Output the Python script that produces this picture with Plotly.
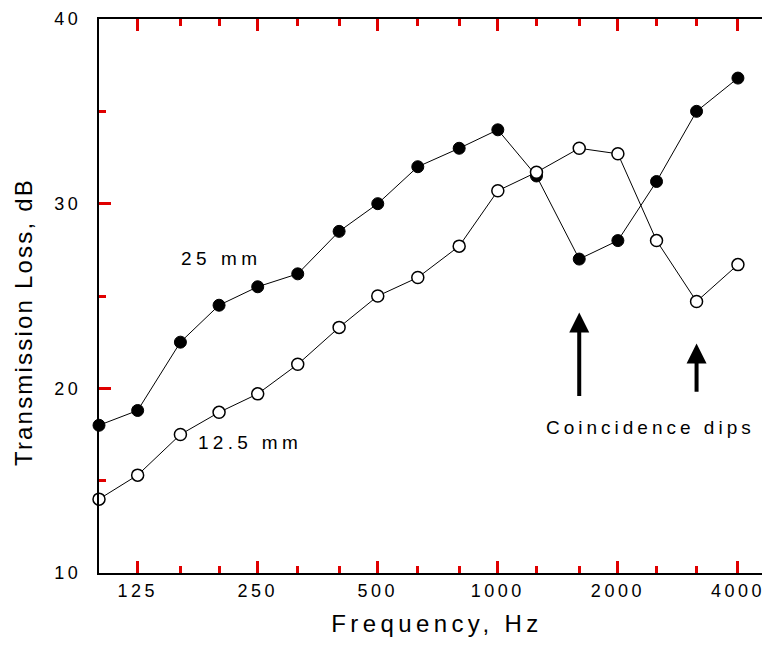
import math
import plotly.graph_objects as go

freqs = [100, 125, 160, 200, 250, 315, 400, 500, 630, 800, 1000, 1250, 1600, 2000, 2500, 3150, 4000]
tl_25mm = [18.0, 18.8, 22.5, 24.5, 25.5, 26.2, 28.5, 30.0, 32.0, 33.0, 34.0, 31.5, 27.0, 28.0, 31.2, 35.0, 36.8]
tl_12mm = [14.0, 15.3, 17.5, 18.7, 19.7, 21.3, 23.3, 25.0, 26.0, 27.7, 30.7, 31.7, 33.0, 32.7, 28.0, 24.7, 26.7]
x_ticks = [125, 250, 500, 1000, 2000, 4000]
x_minor = [160, 200, 315, 400, 630, 800, 1250, 1600, 2500, 3150]
y_ticks = [10, 20, 30, 40]
y_minor = [15, 25, 35]

FONT = "Liberation Sans, Arial, sans-serif"


def spaced(text, px):
    return '<span style="letter-spacing:%spx">%s</span>' % (px, text)


X_RANGE = [2, 3.695]
Y_RANGE = [10, 40]

fig = go.Figure()
fig.add_trace(go.Scatter(
    x=freqs, y=tl_25mm, mode="lines+markers", name="25 mm",
    line=dict(color="black", width=1),
    marker=dict(symbol="circle", size=12, color="black", line=dict(color="black", width=1)),
    cliponaxis=False,
))
fig.add_trace(go.Scatter(
    x=freqs, y=tl_12mm, mode="lines+markers", name="12.5 mm",
    line=dict(color="black", width=1),
    marker=dict(symbol="circle", size=12, color="white", line=dict(color="black", width=1.5)),
    cliponaxis=False,
))

tick_style = dict(ticks="inside", tickwidth=3, tickcolor="#e00000", showgrid=False, zeroline=False)

layout = dict(
    width=770, height=645,
    margin=dict(l=91, r=1, t=10, b=80),
    paper_bgcolor="white", plot_bgcolor="white",
    showlegend=False,
    font=dict(family=FONT, color="black"),
    xaxis=dict(
        type="log", range=X_RANGE,
        tickmode="array", tickvals=x_ticks, ticktext=[spaced(str(v), 3.5) for v in x_ticks],
        ticklen=12, showline=True, linewidth=2, linecolor="black", mirror=True,
        tickfont=dict(size=18, family=FONT),
        title=dict(text=spaced("Frequency, Hz", 4.4), font=dict(size=24, family=FONT), standoff=16),
        **tick_style,
    ),
    yaxis=dict(
        range=Y_RANGE,
        tickmode="array", tickvals=y_ticks, ticktext=[spaced(str(v), 3.5) for v in y_ticks],
        ticks="", ticklabelstandoff=12,
        showline=True, linewidth=2, linecolor="black", mirror=True,
        showgrid=False, zeroline=False,
        tickfont=dict(size=18, family=FONT),
    ),
)

extra_x = [("xaxis2", "bottom", x_minor, 7), ("xaxis3", "top", x_ticks, 12), ("xaxis4", "top", x_minor, 7)]
extra_y = [("yaxis2", "left", y_minor, 7), ("yaxis3", "right", y_ticks, 12),
           ("yaxis4", "right", y_minor, 7), ("yaxis5", "left", y_ticks, 12)]
for name, side, vals, ln in extra_x:
    layout[name] = dict(type="log", range=X_RANGE, overlaying="x", anchor="y", side=side,
                        tickmode="array", tickvals=vals, showticklabels=False,
                        ticklen=ln, showline=False, **tick_style)
for name, side, vals, ln in extra_y:
    layout[name] = dict(range=Y_RANGE, overlaying="y", anchor="x", side=side,
                        tickmode="array", tickvals=vals, showticklabels=False,
                        ticklen=ln, showline=False, **tick_style)
layout["xaxis5"] = dict(type="log", range=X_RANGE, overlaying="x", anchor="y5", visible=False)
fig.update_layout(**layout)

for i in range(2, 6):
    fig.add_trace(go.Scatter(x=[None], y=[None], xaxis="x%d" % i, yaxis="y%d" % i,
                             showlegend=False, hoverinfo="skip"))

fig.add_annotation(x=-0.1106, y=23.6, xref="paper", yref="y", textangle=-90,
                   text=spaced("Transmission Loss, dB", 2.2), showarrow=False,
                   xanchor="center", yanchor="middle", font=dict(size=24, family=FONT))

fig.add_annotation(x=2.3075, y=27.03, text=spaced("25 mm", 4.5), showarrow=False,
                   xanchor="center", yanchor="middle", font=dict(size=19, family=FONT))
fig.add_annotation(x=2.3775, y=17.08, text=spaced("12.5 mm", 4.3), showarrow=False,
                   xanchor="center", yanchor="middle", font=dict(size=19, family=FONT))
fig.add_annotation(x=3.3825, y=17.9, text=spaced("Coincidence dips", 4), showarrow=False,
                   xanchor="center", yanchor="middle", font=dict(size=19, family=FONT))

for f, y_tip, y_tail in [(1600, 24.1, 19.5), (3150, 22.43, 19.73)]:
    fig.add_annotation(
        x=math.log10(f), y=y_tip, ax=math.log10(f), ay=y_tail,
        xref="x", yref="y", axref="x", ayref="y",
        showarrow=True, arrowhead=2, arrowsize=1.0, arrowwidth=4, arrowcolor="black", text="",
    )

fig.write_html("out.html")
